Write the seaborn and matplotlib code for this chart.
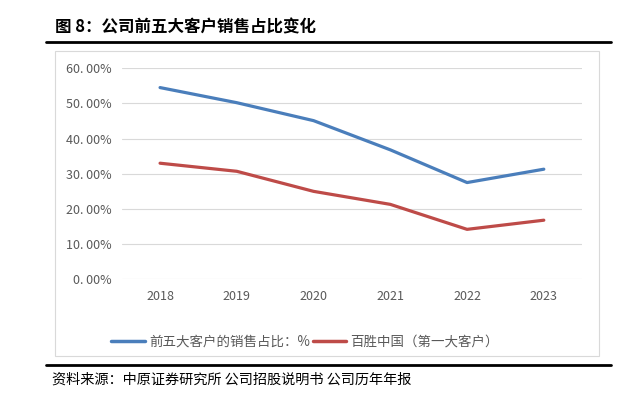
import numpy as np
import pandas as pd
import matplotlib
matplotlib.use("Agg")
import matplotlib.pyplot as plt
import seaborn as sns
from matplotlib.lines import Line2D
from matplotlib.patches import Rectangle
from matplotlib.ticker import FuncFormatter

# ─── Data ─────────────────────────────────────────────────────────────
YEARS = ["2018", "2019", "2020", "2021", "2022", "2023"]
TOP5_SHARE = [0.545, 0.502, 0.451, 0.368, 0.275, 0.313]
YUM_SHARE = [0.330, 0.307, 0.250, 0.213, 0.142, 0.168]
SERIES_NAMES = ["前五大客户的销售占比：%", "百胜中国（第一大客户）"]
COLORS = ["#4A7EBB", "#BE4B48"]

TITLE = "图 8：公司前五大客户销售占比变化"
SOURCE = "资料来源：中原证券研究所 公司招股说明书 公司历年年报"

df = pd.DataFrame({
    "year": YEARS * 2,
    "share": TOP5_SHARE + YUM_SHARE,
    "series": [SERIES_NAMES[0]] * len(YEARS) + [SERIES_NAMES[1]] * len(YEARS),
})

sns.set_theme(style="white")
plt.rcParams["font.family"] = ["Noto Sans CJK SC", "DejaVu Sans"]

fig = plt.figure(figsize=(6.24, 3.99), dpi=100)
ax = fig.add_axes([0.195, 0.300, 0.738, 0.529])

sns.lineplot(data=df, x="year", y="share", hue="series", palette=COLORS,
             linewidth=2.3, ax=ax, legend=False, sort=False)

ax.set_xlim(-0.5, len(YEARS) - 0.5)
ax.set_ylim(0, 0.6)
ax.set_yticks(np.arange(0, 0.61, 0.1))
ax.yaxis.set_major_formatter(FuncFormatter(lambda v, p: f"{v * 100:.2f}%".replace(".", ". ")))
ax.grid(axis="y", color="#D9D9D9", linewidth=0.8)
ax.set_axisbelow(True)
for s in ax.spines.values():
    s.set_visible(False)
ax.tick_params(axis="both", length=0, labelsize=9, colors="#595959", pad=8)
ax.tick_params(axis="y", pad=7)
ax.set_xlabel("")
ax.set_ylabel("")

# chart frame
fig.patches.append(Rectangle((55 / 624, 1 - 356 / 399), 544 / 624, 305 / 399,
                             transform=fig.transFigure, fill=False,
                             edgecolor="#D9D9D9", linewidth=0.8))

# title and rules
fig.text(55 / 624, 1 - 27 / 399, TITLE, fontsize=11.9, fontweight="bold",
         va="center", ha="left", color="black")
fig.add_artist(Line2D([46 / 624, 611 / 624], [1 - 42 / 399] * 2,
                      transform=fig.transFigure, color="black", linewidth=2))
fig.add_artist(Line2D([46 / 624, 611 / 624], [1 - 365 / 399] * 2,
                      transform=fig.transFigure, color="black", linewidth=2))
fig.text(52 / 624, 1 - 380 / 399, SOURCE, fontsize=10.2, va="center",
         ha="left", color="black")

handles = [Line2D([0], [0], color=c, linewidth=2.5) for c in COLORS]
fig.legend(handles, SERIES_NAMES, loc="center", bbox_to_anchor=(305 / 624, 1 - 342 / 399),
           ncol=2, frameon=False, fontsize=9.7, handlelength=2.5, handletextpad=0.3,
           columnspacing=0.2, labelcolor="#595959")

fig.savefig("out.png", dpi=100)
